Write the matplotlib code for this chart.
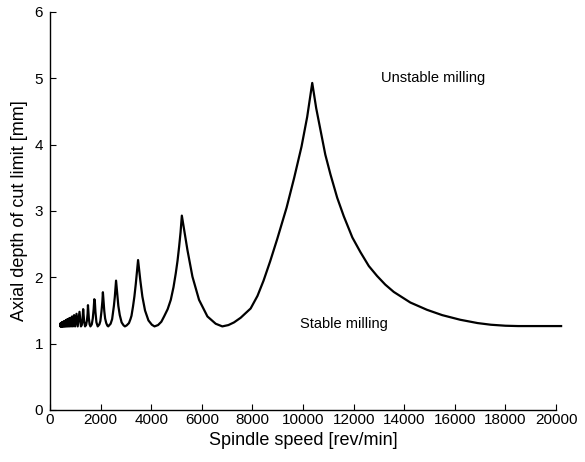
import matplotlib.pyplot as plt

plt.rcParams['font.family'] = ['Liberation Sans', 'DejaVu Sans']

# stability lobe boundary (spindle speed, depth of cut limit)
speed_rpm = [
    400, 403, 410, 419, 426, 436, 444, 455, 463, 476, 485, 499, 508, 524, 534,
    551, 563, 582, 595, 616, 631, 654, 672, 698, 718, 748, 771, 806, 832, 873,
    904, 952, 990, 1048, 1094, 1165, 1222, 1255, 1285,
    1310, 1325, 1350, 1385, 1425, 1460, 1485,
    1500, 1515, 1535, 1565, 1597, 1650, 1690, 1725,
    1750, 1770, 1795, 1835, 1885, 1950, 1990, 2035, 2070,
    2090, 2120, 2145, 2178, 2222, 2266, 2300, 2395, 2455, 2490, 2525, 2560, 2590,
    2610, 2660, 2700, 2757, 2830, 2905, 2960, 3030, 3120, 3180, 3220, 3280, 3335, 3390, 3450,
    3480, 3570, 3650, 3755, 3890, 4025, 4130, 4270, 4400, 4509, 4650, 4773, 4880, 4970, 5040, 5102, 5160,
    5210, 5432, 5629, 5890, 6221, 6548, 6810, 7050, 7271, 7534, 7929, 8200, 8440, 8700, 8982,
    9350, 9650, 9940, 10165,
    10364, 10520, 10690, 10880, 11085, 11350, 11611, 11950, 12268, 12600, 12927, 13250, 13585,
    14241, 14900, 15500, 16213, 16900, 17426, 18000, 18500, 20200,
]
depth_mm = [
    1.27, 1.30, 1.26, 1.305, 1.26, 1.31, 1.26, 1.315, 1.26, 1.32, 1.26, 1.325, 1.26, 1.33, 1.26,
    1.335, 1.26, 1.34, 1.26, 1.35, 1.26, 1.36, 1.26, 1.37, 1.26, 1.38, 1.26, 1.39, 1.26, 1.41,
    1.26, 1.43, 1.26, 1.45, 1.26, 1.48, 1.26, 1.28, 1.36,
    1.52, 1.44, 1.33, 1.26, 1.28, 1.35, 1.45,
    1.58, 1.49, 1.38, 1.29, 1.26, 1.29, 1.38, 1.52,
    1.67, 1.65, 1.48, 1.32, 1.26, 1.29, 1.34, 1.49, 1.64,
    1.775, 1.62, 1.49, 1.38, 1.31, 1.272, 1.26, 1.30, 1.37, 1.47, 1.57, 1.70, 1.86,
    1.95, 1.74, 1.57, 1.43, 1.32, 1.277, 1.26, 1.275, 1.31, 1.37, 1.42, 1.56, 1.71, 1.90, 2.13,
    2.26, 1.95, 1.71, 1.50, 1.35, 1.285, 1.26, 1.28, 1.33, 1.41, 1.52, 1.66, 1.85, 2.06, 2.25, 2.46, 2.68,
    2.93, 2.41, 2.01, 1.66, 1.41, 1.30, 1.26, 1.28, 1.32, 1.39, 1.53, 1.72, 1.95, 2.24, 2.58,
    3.05, 3.50, 3.97, 4.42,
    4.93, 4.55, 4.22, 3.85, 3.55, 3.20, 2.92, 2.60, 2.38, 2.17, 2.02, 1.89, 1.78,
    1.62, 1.51, 1.43, 1.36, 1.31, 1.285, 1.27, 1.265, 1.265,
]

fig = plt.figure(figsize=(5.85, 4.62), dpi=100)
ax = fig.add_axes([0.0855, 0.1126, 0.8650, 0.8615])

ax.plot(speed_rpm, depth_mm, color='black', linewidth=1.6, clip_on=False)

ax.set_xlim(0, 20000)
ax.set_ylim(0, 6)
ax.set_xticks(range(0, 20001, 2000))
ax.set_yticks(range(0, 7))
ax.tick_params(direction='in', length=4, width=0.8, labelsize=11)
ax.tick_params(axis='x', pad=2)
ax.tick_params(axis='y', pad=5)
ax.spines['top'].set_visible(False)
ax.spines['right'].set_visible(False)
for s in ['left', 'bottom']:
    ax.spines[s].set_linewidth(1.0)

ax.set_xlabel('Spindle speed [rev/min]', fontsize=13, labelpad=4)
ax.set_ylabel('Axial depth of cut limit [mm]', fontsize=13, labelpad=5)

ax.text(13100, 5.0, 'Unstable milling', fontsize=10.5, va='center', ha='left')
ax.text(9900, 1.30, 'Stable milling', fontsize=10.5, va='center', ha='left')

fig.savefig('out.png', dpi=100)
